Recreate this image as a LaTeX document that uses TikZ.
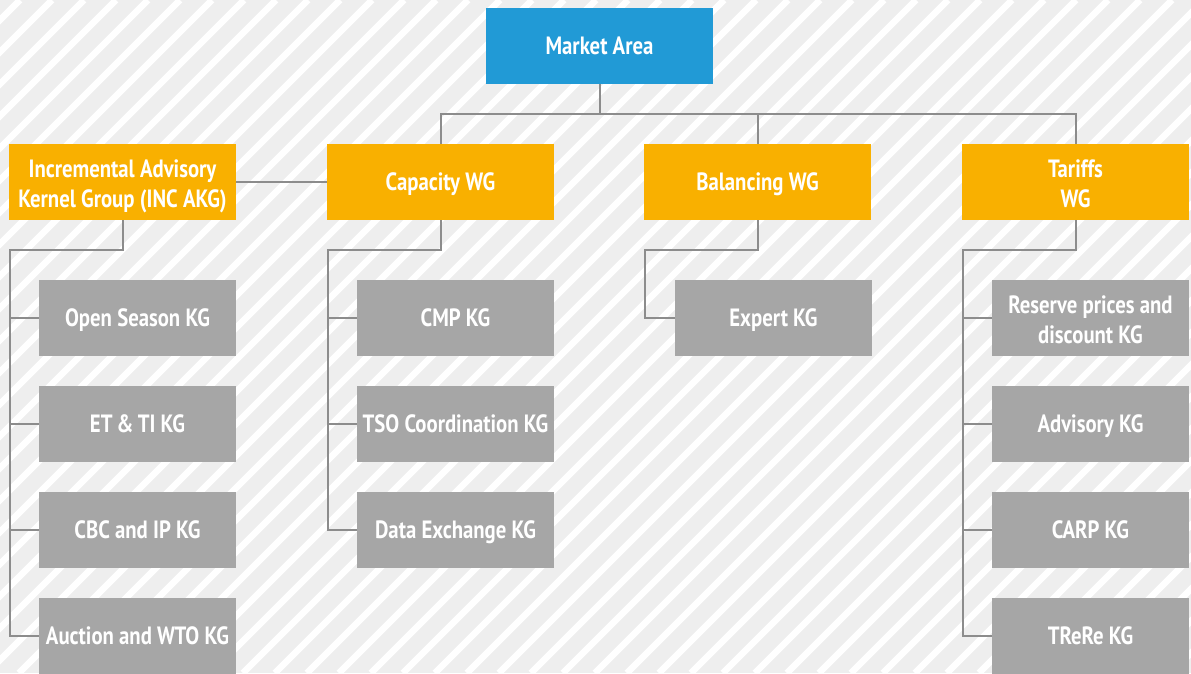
\documentclass[tikz,border=0pt]{standalone}
\usepackage{fontspec}
\setmainfont{PT Sans}[FakeStretch=0.83]
\definecolor{bgc}{HTML}{EEEEEE}
\definecolor{mablue}{HTML}{219AD6}
\definecolor{wgorange}{HTML}{F9B000}
\definecolor{kggray}{HTML}{A6A6A6}
\definecolor{linec}{HTML}{8C8C8C}
\tikzset{
  box/.style={inner sep=0pt, align=center, text=white, font=\bfseries\fontsize{25}{30}\selectfont, minimum height=76pt},
  one/.style={text height=17.5pt, text depth=0pt},
  two/.style={text height=50.5pt, text depth=0pt},
  mabox/.style={box, fill=mablue, minimum width=227pt},
  wgbox/.style={box, fill=wgorange, minimum width=227pt},
  kgbox/.style={box, fill=kggray, minimum width=197pt},
  conn/.style={draw=linec, line width=2pt}
}
\begin{document}
\begin{tikzpicture}[x=1pt,y=-1pt]
\useasboundingbox (0,0) rectangle (1191,673);
\clip (0,0) rectangle (1191,673);
\fill[bgc] (0,0) rectangle (1191,673);
\foreach \k in {-2,...,59} {
  \draw[white, line width=6.5pt] (\k*32+20-673,673) -- (\k*32+20,0);
}
% nodes
\node[mabox, one] (ma) at (599.5,46) {Market Area};
\node[wgbox, two] (inc) at (122.5,182) {Incremental Advisory\\Kernel Group (INC AKG)};
\node[wgbox, one] (cap) at (440.5,182) {Capacity WG};
\node[wgbox, one] (bal) at (757.5,182) {Balancing WG};
\node[wgbox, two] (tar) at (1075.5,182) {Tariffs\\WG};
% INC
\node[kgbox, one] (i1) at (137.5,318) {Open Season KG};
\node[kgbox, one] (i2) at (137.5,424) {ET\,\&\,TI KG};
\node[kgbox, one] (i3) at (137.5,530) {CBC and IP KG};
\node[kgbox, one] (i4) at (137.5,636) {Auction and WTO KG};
% Capacity
\node[kgbox, one] (c1) at (455.5,318) {CMP KG};
\node[kgbox, one] (c2) at (455.5,424) {TSO Coordination KG};
\node[kgbox, one] (c3) at (455.5,530) {Data Exchange KG};
% Balancing
\node[kgbox, one] (b1) at (773.5,318) {Expert KG};
% Tariffs
\node[kgbox, two] (t1) at (1090.5,318) {Reserve prices and\\discount KG};
\node[kgbox, one] (t2) at (1090.5,424) {Advisory KG};
\node[kgbox, one] (t3) at (1090.5,530) {CARP KG};
\node[kgbox, one] (t4) at (1090.5,636) {TReRe KG};
% coordinates
\coordinate (incb) at (10,250);
\coordinate (capb) at (328,250);
\coordinate (balb) at (645,250);
\coordinate (tarb) at (963,250);
% connectors
\draw[conn] (ma.south) -- ++(0,30);
\draw[conn] (cap.north) -- ++(0,-30) -| (tar.north);
\draw[conn] (bal.north) -- ++(0,-30);
\draw[conn] (inc.east) -- (cap.west);
\draw[conn] (inc.south) |- (incb) |- (i4.west);
\draw[conn] (incb |- i1.west) -- (i1.west);
\draw[conn] (incb |- i2.west) -- (i2.west);
\draw[conn] (incb |- i3.west) -- (i3.west);
\draw[conn] (cap.south) |- (capb) |- (c3.west);
\draw[conn] (capb |- c1.west) -- (c1.west);
\draw[conn] (capb |- c2.west) -- (c2.west);
\draw[conn] (bal.south) |- (balb) |- (b1.west);
\draw[conn] (tar.south) |- (tarb) |- (t4.west);
\draw[conn] (tarb |- t1.west) -- (t1.west);
\draw[conn] (tarb |- t2.west) -- (t2.west);
\draw[conn] (tarb |- t3.west) -- (t3.west);
\end{tikzpicture}
\end{document}
